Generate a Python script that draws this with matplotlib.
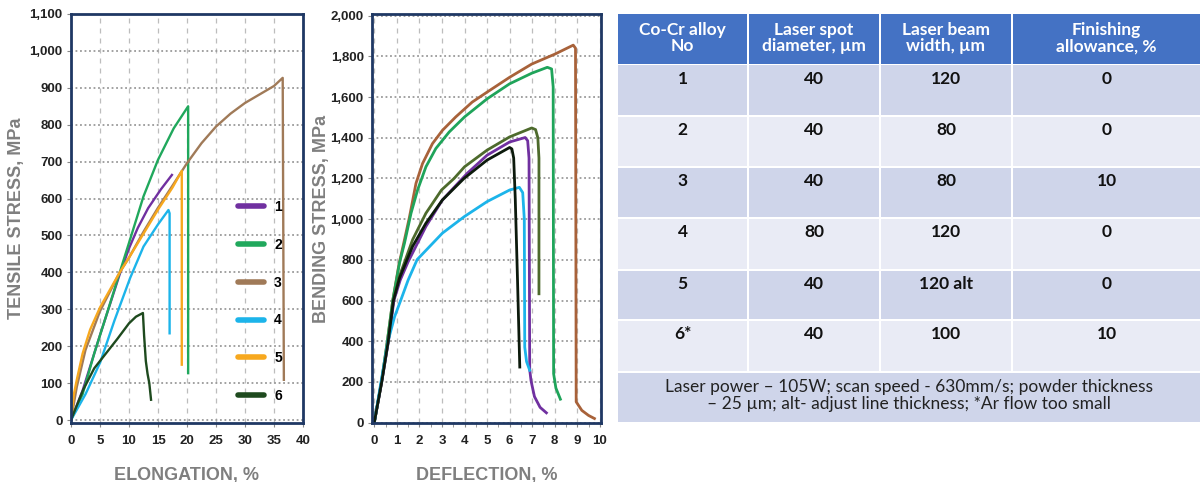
import matplotlib.pyplot as plt
from matplotlib.lines import Line2D
from matplotlib.patches import Rectangle
from matplotlib.ticker import MultipleLocator, FuncFormatter

# ------------------------
# Tensile test curves (elongation %, stress MPa)
# ------------------------
t1_x = [0, 2, 5, 8.4, 10, 11.5, 13.3, 15.5, 17.4]
t1_y = [0, 80, 230, 395, 465, 520, 574, 625, 664]
t2_x = [0, 2, 4, 6.4, 8.4, 10, 12.5, 15, 17.7, 20.2, 20.2]
t2_y = [0, 70, 180, 299, 400, 480, 606, 705, 790, 850, 127]
t3_x = [0, 1, 2.5, 5, 8.4, 10, 12.5, 15, 17.5, 20, 22.5, 25, 27.5, 30, 32.5, 35, 36.5, 36.7]
t3_y = [0, 90, 190, 295, 400, 440, 510, 575, 635, 696, 750, 795, 830, 859, 882, 905, 927, 109]
t4_x = [0, 2.5, 5, 7.5, 10.2, 12.5, 15, 16.8, 17.0, 17.0]
t4_y = [0, 70, 155, 270, 385, 470, 530, 569, 560, 235]
t5_x = [0, 0.5, 1, 2, 3.3, 5, 8.4, 10, 12.5, 15, 17.5, 19.1, 19.1]
t5_y = [0, 70, 109, 180, 245, 305, 400, 440, 505, 570, 630, 675, 150]
t6_x = [0, 2.1, 4, 5.6, 8, 10, 11.2, 12.4, 12.6, 12.9, 13.2, 13.5, 13.8]
t6_y = [0, 82, 140, 172, 220, 262, 280, 290, 230, 160, 125, 100, 55]

# ------------------------
# Bending test curves (deflection %, stress MPa)
# ------------------------
b_brown_x = [0, 0.32, 0.58, 0.82, 1.1, 1.34, 1.56, 1.85, 2.14, 2.58, 3.02, 3.61, 4.34, 5.0, 6.0, 6.98,
             8.01, 8.82, 8.92, 8.95, 9.2, 9.5, 9.76]
b_brown_y = [0, 200, 400, 600, 780, 899, 1010, 1176, 1273, 1371, 1436, 1502, 1575, 1624, 1697, 1762,
             1811, 1855, 1840, 102, 60, 35, 20]
b_green_x = [0, 0.32, 0.58, 0.82, 1.12, 1.34, 1.63, 1.92, 2.29, 2.73, 3.32, 4.0, 5.0, 6.0, 6.98, 7.67,
             7.86, 7.93, 7.95, 8.05, 8.25]
b_green_y = [0, 200, 400, 600, 785, 882, 1029, 1143, 1257, 1347, 1428, 1502, 1591, 1665, 1717, 1746,
             1738, 1650, 240, 170, 115]
b_olive_x = [0, 0.33, 0.62, 0.85, 1.1, 1.38, 1.7, 2.29, 2.98, 3.54, 4.0, 5.0, 6.0, 6.98, 7.15, 7.25, 7.3, 7.3]
b_olive_y = [0, 200, 400, 600, 715, 800, 899, 1029, 1143, 1200, 1257, 1339, 1404, 1448, 1440, 1400, 1300, 633]
b_purple_x = [0, 0.33, 0.63, 0.87, 1.15, 1.5, 2.29, 3.02, 4.12, 5.0, 6.0, 6.69, 6.8, 6.86, 6.89, 6.95,
              7.1, 7.35, 7.63]
b_purple_y = [0, 200, 400, 600, 700, 790, 964, 1094, 1225, 1314, 1379, 1401, 1385, 1300, 260, 205,
              128, 75, 48]
b_cyan_x = [0, 0.3, 0.61, 0.9, 1.17, 1.5, 1.9, 3.02, 4.0, 5.0, 6.0, 6.43, 6.58, 6.65, 6.67, 6.75, 6.89]
b_cyan_y = [0, 200, 400, 520, 600, 700, 801, 931, 1013, 1086, 1143, 1156, 1130, 1000, 371, 300, 257]
b_black_x = [0, 0.33, 0.62, 0.85, 1.12, 1.45, 1.7, 2.29, 3.02, 3.98, 5.0, 6.0, 6.1, 6.18, 6.25, 6.35, 6.45]
b_black_y = [0, 200, 400, 600, 710, 800, 866, 980, 1094, 1200, 1290, 1352, 1345, 1300, 1100, 700, 273]

# ------------------------
# Table contents
# ------------------------
col_headers = ["Co-Cr alloy\nNo", "Laser spot\ndiameter, µm", "Laser beam\nwidth, µm", "Finishing\nallowance, %"]
alloy_no = ["1", "2", "3", "4", "5", "6*"]
spot_diam = ["40", "40", "40", "80", "40", "40"]
beam_width = ["120", "80", "80", "120", "120 alt", "100"]
finishing = ["0", "0", "10", "0", "0", "10"]
footnote = "Laser power \u2013 105W; scan speed - 630mm/s; powder thickness\n\u2013 25 µm; alt- adjust line thickness; *Ar flow too small"

legend_labels = ["1", "2", "3", "4", "5", "6"]
colors = ["#7030a0", "#20a85c", "#a07a58", "#1cb4ea", "#f7a81e", "#1e4a1e"]

W, H = 1201, 482
fig = plt.figure(figsize=(W / 100, H / 100), dpi=100)
plt.rcParams["font.family"] = ["Liberation Sans", "DejaVu Sans"]

frame_col = "#1f3864"
label_col = "#7f7f7f"


def px_axes(l, t, r, b):
    return fig.add_axes([l / W, 1 - b / H, (r - l) / W, (b - t) / H])


def style(ax):
    for s in ax.spines.values():
        s.set_color(frame_col)
        s.set_linewidth(2)
    ax.grid(axis="x", which="major", linestyle=(0, (4, 4)), color="#bdbdbd", linewidth=0.9)
    ax.grid(axis="y", which="major", linestyle=(0, (1, 1.5)), color="#9a9a9a", linewidth=1.3)
    ax.tick_params(axis="both", which="both", length=3, color="#888888", labelsize=9.5, pad=3)
    ax.tick_params(axis="x", pad=6)
    for lab in ax.get_xticklabels() + ax.get_yticklabels():
        lab.set_fontweight("bold")
        lab.set_color("#222222")
    ax.yaxis.set_major_formatter(FuncFormatter(lambda v, p: f"{int(v):,}"))
    ax.set_axisbelow(True)


# ------------------------
# Tensile chart
# ------------------------
ax1 = px_axes(71, 14, 303, 423)
tens = [(t1_x, t1_y), (t2_x, t2_y), (t3_x, t3_y), (t4_x, t4_y), (t5_x, t5_y), (t6_x, t6_y)]
for (x, y), c in zip(tens, colors):
    ax1.plot(x, y, color=c, linewidth=1.7, solid_joinstyle="round")
ax1.set_xlim(0, 40)
ax1.set_ylim(-8, 1100)
ax1.xaxis.set_major_locator(MultipleLocator(5))
ax1.yaxis.set_major_locator(MultipleLocator(100))
style(ax1)
ax1.set_xlabel("ELONGATION, %", fontsize=13, fontweight="heavy", color=label_col, labelpad=14)
ax1.set_ylabel("TENSILE STRESS, MPa", fontsize=13, fontweight="heavy", color=label_col)
ax1.yaxis.set_label_coords(-0.2, 0.5)

handles = [Line2D([], [], color=c, linewidth=4, solid_capstyle="round") for c in colors]
ax1.legend(handles, legend_labels, loc="center left", bbox_to_anchor=(0.69, 0.297),
           frameon=False, handlelength=1.9, handletextpad=0.7, labelspacing=1.72,
           prop={"weight": "bold", "size": 10}, borderpad=0)

# ------------------------
# Bending chart
# ------------------------
ax2 = px_axes(372, 14, 601, 423)
bend = [(b_brown_x, b_brown_y, "#a8623a"), (b_green_x, b_green_y, "#1fa45a"),
        (b_olive_x, b_olive_y, "#4d6a2c"), (b_purple_x, b_purple_y, "#7030a0"),
        (b_cyan_x, b_cyan_y, "#1cb4ea"), (b_black_x, b_black_y, "#0c1a0c")]
for x, y, c in bend:
    ax2.plot(x, y, color=c, linewidth=2, solid_joinstyle="round")
ax2.set_xlim(-0.1, 10.05)
ax2.set_ylim(-2, 2008)
ax2.xaxis.set_major_locator(MultipleLocator(1))
ax2.xaxis.set_minor_locator(MultipleLocator(0.5))
ax2.yaxis.set_major_locator(MultipleLocator(200))
style(ax2)
ax2.set_xlabel("DEFLECTION, %", fontsize=13, fontweight="heavy", color=label_col, labelpad=14)
ax2.set_ylabel("BENDING STRESS, MPa", fontsize=13, fontweight="heavy", color=label_col)
ax2.yaxis.set_label_coords(-0.185, 0.5)

# ------------------------
# Table
# ------------------------
axt = fig.add_axes([0, 0, 1, 1])
axt.set_xlim(0, W)
axt.set_ylim(H, 0)
axt.axis("off")

col_edges = [617, 748, 880, 1012, 1201]
row_edges = [14, 64.5, 116, 167, 218, 270, 320, 372, 423]
gap = 1.5
head_col = "#4472c4"
row_cols = ["#cfd5ea", "#e9ebf5"]
tfont = ["Lato", "DejaVu Sans"]
tsize = 12.5

for j in range(4):
    x0, x1 = col_edges[j], col_edges[j + 1]
    axt.add_patch(Rectangle((x0 + gap / 2, row_edges[0]), x1 - x0 - gap, row_edges[1] - row_edges[0] - gap / 2,
                            facecolor=head_col, edgecolor="none"))
    axt.text((x0 + x1) / 2, (row_edges[0] + row_edges[1]) / 2 - 1, col_headers[j], ha="center", va="center",
             color="white", fontsize=tsize, fontweight="bold", family=tfont, linespacing=1.0)

columns = [alloy_no, spot_diam, beam_width, finishing]
for i in range(6):
    y0, y1 = row_edges[i + 1], row_edges[i + 2]
    for j in range(4):
        x0, x1 = col_edges[j], col_edges[j + 1]
        axt.add_patch(Rectangle((x0 + gap / 2, y0 + gap / 2), x1 - x0 - gap, y1 - y0 - gap,
                                facecolor=row_cols[i % 2], edgecolor="none"))
        axt.text((x0 + x1) / 2, y0 + 14, columns[j][i], ha="center", va="center",
                 color="#111111", fontsize=tsize, fontweight="bold", family=tfont)

y0, y1 = row_edges[7], row_edges[8]
axt.add_patch(Rectangle((col_edges[0] + gap / 2, y0 + gap / 2), col_edges[-1] - col_edges[0] - gap, y1 - y0 - gap,
                        facecolor=row_cols[0], edgecolor="none"))
axt.text((col_edges[0] + col_edges[-1]) / 2, (y0 + y1) / 2 - 2, footnote, ha="center", va="center",
         color="#222222", fontsize=tsize, family=tfont, linespacing=1.05)

plt.savefig("out.png", dpi=100)
